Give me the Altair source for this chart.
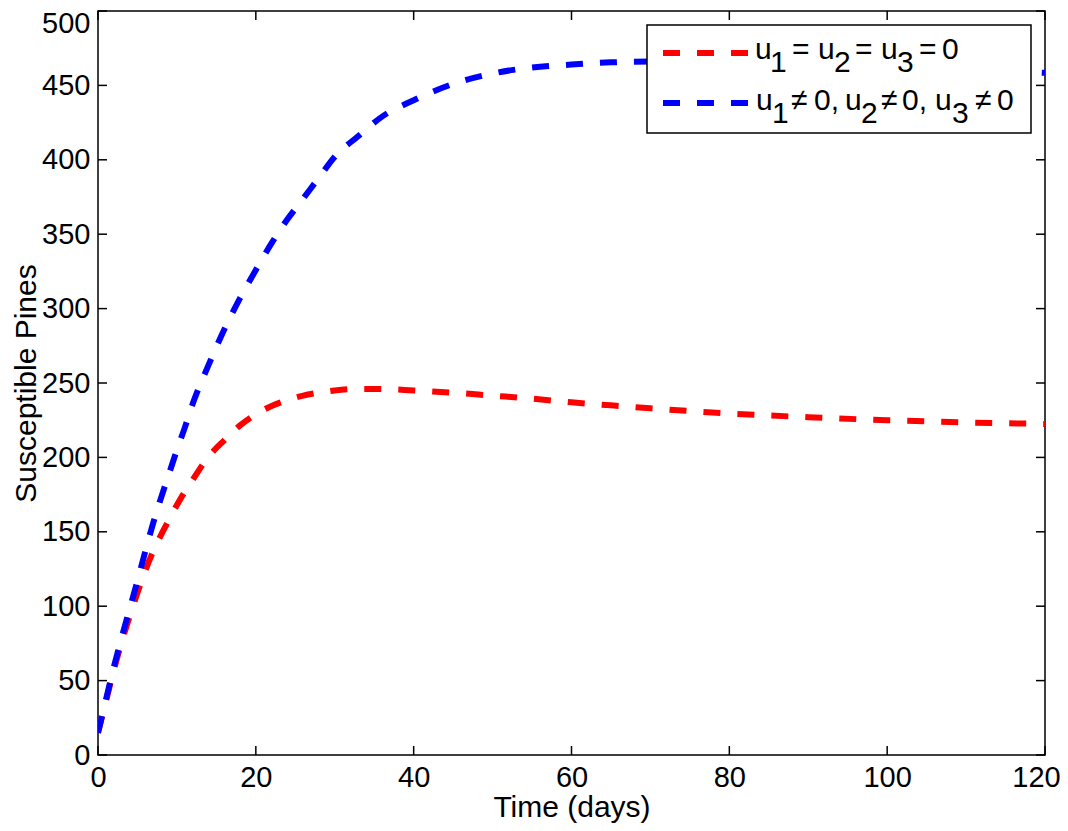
import altair as alt
import pandas as pd

# ---- data ----
t_days = [0, 1, 2, 3, 4, 5, 6, 7, 8, 9, 10, 11, 12, 14, 16, 18, 20, 22, 24, 26, 28, 30,
          33, 36, 40, 45, 50, 55, 60, 65, 70, 80, 90, 100, 110, 120]
no_control = [15, 36, 57, 76, 93, 109, 124, 137, 148, 158, 168, 177, 185, 200.5, 211.5, 221.5, 229,
              234.5, 238.5, 241.5, 243.5, 245, 246, 246, 245, 243.5, 241.5, 239.5, 237, 235, 233,
              229.5, 227, 225, 223.5, 222.5]
with_control = [15, 37, 59, 79, 98, 117, 137, 156, 173, 189, 205, 220, 236, 262, 286, 307, 326, 344,
                360, 374, 388, 402, 416, 429, 440, 451, 458, 462, 464, 465.5, 466, 465.5, 464,
                462.5, 460.5, 458.5]
x_ticks = [0, 20, 40, 60, 80, 100, 120]
y_ticks = [0, 50, 100, 150, 200, 250, 300, 350, 400, 450, 500]
x_title = "Time (days)"
y_title = "Susceptible Pines"
# legend label pieces: (text, is_subscript)
legend_row1 = [("u", False), ("1", True), ("=", False), ("u", False), ("2", True), ("=", False),
               ("u", False), ("3", True), ("=", False), ("0", False)]
legend_row2 = [("u", False), ("1", True), ("\u2260", False), ("0,", False), ("u", False), ("2", True),
               ("\u2260", False), ("0,", False), ("u", False), ("3", True), ("\u2260", False), ("0", False)]

FONT = "Liberation Sans"
FS_TICK = 29
FS = 30
W, H = 947, 744
RED, BLUE = "#ff0000", "#0000ff"

red_df = pd.DataFrame({"t": t_days, "v": no_control})
blue_df = pd.DataFrame({"t": t_days, "v": with_control})

xs = alt.Scale(domain=[0, 120], nice=False, zero=False)
ys = alt.Scale(domain=[0, 500], nice=False, zero=False)

x_axis = alt.Axis(values=x_ticks, tickSize=0, domain=False, grid=False, labelFont=FONT,
                  labelFontSize=FS_TICK, labelColor="black", labelPadding=8, labelFlush=False,
                  labelOffset={"condition": {"test": "datum.value === 120", "value": -9}, "value": 0},
                  title=x_title, titleFont=FONT, titleFontSize=FS, titleFontWeight="normal",
                  titleColor="black", titlePadding=0)
y_axis = alt.Axis(values=y_ticks, tickSize=0, domain=False, grid=False, labelFont=FONT,
                  labelFontSize=FS_TICK, labelColor="black", labelPadding=8, labelFlush=False,
                  labelOffset={"condition": {"test": "datum.value === 500", "value": 12}, "value": 0},
                  title=y_title, titleFont=FONT, titleFontSize=FS, titleFontWeight="normal",
                  titleColor="black", titlePadding=0)

line_props = dict(strokeWidth=6, strokeDash=[17, 17], strokeCap="butt", interpolate="monotone", clip=True)

red_line = alt.Chart(red_df).mark_line(color=RED, **line_props).encode(
    x=alt.X("t:Q", scale=xs, axis=x_axis),
    y=alt.Y("v:Q", scale=ys, axis=y_axis),
)
blue_line = alt.Chart(blue_df).mark_line(color=BLUE, **line_props).encode(
    x=alt.X("t:Q", scale=xs),
    y=alt.Y("v:Q", scale=ys),
)

yt_df = pd.DataFrame({"v": y_ticks})
xt_df = pd.DataFrame({"t": x_ticks})
TL = 9
tick_style = dict(color="black", strokeWidth=1.5)
yt_left = alt.Chart(yt_df).mark_rule(**tick_style).encode(
    y=alt.Y("v:Q", scale=ys), x=alt.value(0), x2=alt.value(TL))
yt_right = alt.Chart(yt_df).mark_rule(**tick_style).encode(
    y=alt.Y("v:Q", scale=ys), x=alt.value(W - TL), x2=alt.value(W))
xt_bottom = alt.Chart(xt_df).mark_rule(**tick_style).encode(
    x=alt.X("t:Q", scale=xs), y=alt.value(H - TL), y2=alt.value(H))
xt_top = alt.Chart(xt_df).mark_rule(**tick_style).encode(
    x=alt.X("t:Q", scale=xs), y=alt.value(0), y2=alt.value(TL))

one = alt.Data(values=[{}])

# legend (layout only)
LX0, LX1, LY0, LY1 = 549, 933, 14, 122
legend_box = alt.Chart(one).mark_rect(fill="white", stroke="black", strokeWidth=1.5).encode(
    x=alt.value(LX0), x2=alt.value(LX1), y=alt.value(LY0), y2=alt.value(LY1))


def legend_symbol(color, y):
    return alt.Chart(one).mark_rule(color=color, strokeWidth=6, strokeDash=[17, 17], strokeCap="butt").encode(
        x=alt.value(565), x2=alt.value(650), y=alt.value(y))


def legend_text(pieces, xs_pos, base, sub):
    layers = []
    for (txt, is_sub), xp in zip(pieces, xs_pos):
        layers.append(alt.Chart(one).mark_text(text=txt, align="left", baseline="alphabetic", font=FONT,
                                               fontSize=FS, color="black").encode(
            x=alt.value(xp), y=alt.value(sub if is_sub else base)))
    return layers


row1_x = [p - 98 for p in [755, 770, 792, 818, 834, 855, 881, 897, 919, 942]]
row2_x = [p - 98 for p in [756, 772, 791, 814, 845, 861, 881, 902, 935, 952, 975, 997]]

layers = [red_line, blue_line, yt_left, yt_right, xt_bottom, xt_top, legend_box,
          legend_symbol(RED, 42), legend_symbol(BLUE, 92)]
layers += legend_text(legend_row1, row1_x, 48, 61)
layers += legend_text(legend_row2, row2_x, 99, 112)

chart = alt.layer(*layers).properties(
    width=W, height=H, autosize="none",
    padding={"left": 90, "top": 3, "right": 15, "bottom": 68},
).configure(background="white").configure_view(stroke="black", strokeWidth=1.5)

chart.save("out.html", embed_options={"renderer": "svg", "actions": False})
